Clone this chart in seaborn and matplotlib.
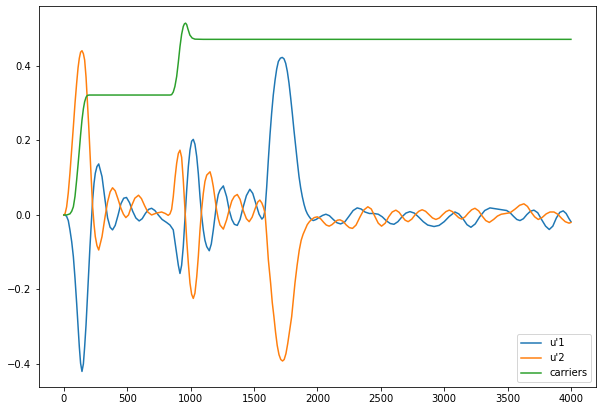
import matplotlib
matplotlib.use("Agg")
import matplotlib.pyplot as plt
import seaborn as sns
import pandas as pd

# ---- u'1 (blue) ----
u1_x = [0, 10, 22, 35, 48, 62, 75, 88, 101, 112, 122, 132, 143, 154, 164, 175, 185, 196, 206, 217,
        227, 238, 248, 261, 275, 301, 325, 345, 365, 384, 405, 428, 450, 472, 494, 518, 543, 568,
        594, 618, 643, 668, 692, 718, 745, 775, 810, 837, 863, 890, 903, 916, 929, 942, 955, 969,
        982, 995, 1008, 1021, 1034, 1048, 1061, 1074, 1087, 1100, 1113, 1127, 1147, 1163, 1179,
        1192, 1205, 1218, 1232, 1258, 1284, 1305, 1325, 1345, 1368, 1390, 1415, 1440, 1467, 1490,
        1515, 1540, 1562, 1575, 1587, 1600, 1613, 1626, 1639, 1652, 1666, 1679, 1692, 1708, 1723,
        1737, 1750, 1763, 1776, 1789, 1802, 1815, 1829, 1842, 1855, 1868, 1881, 1895, 1908, 1921,
        1934, 1947, 1967, 1990, 2017, 2042, 2067, 2095, 2125, 2155, 2183, 2215, 2248, 2282, 2314,
        2345, 2375, 2410, 2445, 2480, 2512, 2545, 2575, 2604, 2635, 2667, 2698, 2730, 2765, 2800,
        2835, 2870, 2920, 2960, 3000, 3040, 3085, 3115, 3148, 3180, 3211, 3245, 3280, 3320, 3361,
        3420, 3493, 3520, 3548, 3573, 3598, 3625, 3652, 3680, 3708, 3738, 3768, 3800, 3829, 3857,
        3885, 3912, 3939, 3962, 3985, 4000]
u1_y = [0.000, 0.000, -0.004, -0.015, -0.040, -0.072, -0.112, -0.170, -0.237, -0.300, -0.354,
        -0.398, -0.420, -0.400, -0.354, -0.295, -0.228, -0.155, -0.085, -0.020,
        0.040, 0.085, 0.112, 0.130, 0.137, 0.103, 0.040, -0.008, -0.033, -0.040, -0.028, 0.000,
        0.030, 0.045, 0.047, 0.033, 0.010, -0.008,
        -0.016, -0.010, 0.004, 0.015, 0.018, 0.012, 0.000, -0.012, -0.020, -0.027, -0.040, -0.103,
        -0.135, -0.157, -0.135, -0.085, -0.010, 0.067,
        0.130, 0.174, 0.198, 0.203, 0.190, 0.157, 0.110, 0.049, -0.002, -0.040, -0.068, -0.085,
        -0.096, -0.078, -0.040,
        -0.005, 0.031, 0.055, 0.067, 0.078, 0.049, 0.012, -0.012, -0.025, -0.028, -0.012, 0.022,
        0.052, 0.069, 0.058,
        0.030, 0.002, -0.011, -0.006, 0.013, 0.075, 0.148, 0.215, 0.273, 0.322, 0.362, 0.392,
        0.412, 0.421, 0.423,
        0.419, 0.407, 0.385, 0.354, 0.315, 0.273, 0.228, 0.183, 0.142, 0.103, 0.073, 0.049, 0.028,
        0.013, 0.003,
        -0.004, -0.010, -0.015, -0.012, -0.006, -0.001, 0.002, -0.002, -0.012, -0.021, -0.024,
        -0.019, -0.004, 0.012, 0.019,
        0.016, 0.008, 0.004, 0.004, 0.002, -0.005, -0.016, -0.023, -0.025, -0.018, -0.005, 0.005,
        0.009, 0.005, -0.006,
        -0.018, -0.027, -0.031, -0.028, -0.018, -0.004, 0.008, 0.003, -0.010, -0.026, -0.033,
        -0.024, -0.005, 0.012, 0.019,
        0.016, 0.012, 0.006, -0.004, -0.012, -0.015, -0.010, 0.001, 0.010, 0.013, 0.006, -0.012,
        -0.030, -0.039, -0.030,
        -0.008, 0.007, 0.011, 0.004, -0.010, -0.018]

# ---- u'2 (orange) ----
u2_x = [0, 10, 22, 35, 48, 62, 75, 88, 101, 112, 122, 132, 143, 154, 164, 175, 185, 196, 206, 217,
        227, 238, 248, 261, 275, 301, 325, 345, 365, 384, 405, 428, 450, 470, 489, 510, 535, 560,
        589, 612, 637, 662, 692, 730, 771, 800, 823, 837, 850, 863, 877, 890, 903, 916, 929, 942,
        955, 969, 982, 995, 1008, 1021, 1034, 1048, 1061, 1074, 1087, 1100, 1113, 1127, 1153,
        1166, 1179, 1192, 1205, 1218, 1232, 1258, 1284, 1305, 1325, 1345, 1368, 1390, 1415, 1440,
        1462, 1485, 1510, 1530, 1546, 1562, 1575, 1587, 1600, 1613, 1631, 1644, 1657, 1670, 1683,
        1697, 1711, 1725, 1738, 1752, 1766, 1780, 1797, 1810, 1823, 1840, 1857, 1872, 1887, 1902,
        1920, 1937, 1955, 1975, 1999, 2025, 2050, 2070, 2093, 2115, 2138, 2158, 2178, 2202, 2228,
        2252, 2277, 2305, 2335, 2365, 2398, 2425, 2452, 2480, 2506, 2535, 2562, 2590, 2619, 2645,
        2668, 2692, 2716, 2745, 2772, 2800, 2826, 2853, 2880, 2908, 2935, 2962, 2988, 3014, 3040,
        3065, 3090, 3114, 3138, 3165, 3190, 3217, 3243, 3272, 3300, 3328, 3356, 3390, 3420, 3450,
        3487, 3520, 3560, 3595, 3629, 3657, 3685, 3714, 3742, 3772, 3805, 3835, 3866, 3896, 3926,
        3955, 3985, 4000]
u2_y = [0.000, 0.004, 0.022, 0.060, 0.112, 0.175, 0.237, 0.300, 0.354, 0.395, 0.421, 0.437,
        0.441, 0.433, 0.416, 0.370, 0.309, 0.240, 0.166, 0.090,
        0.022, -0.025, -0.058, -0.082, -0.094, -0.058, -0.005, 0.035, 0.062, 0.073, 0.065, 0.042,
        0.018, 0.002, -0.007, 0.000, 0.025, 0.045,
        0.053, 0.044, 0.025, 0.008, 0.000, 0.005, 0.008, 0.004, -0.001, 0.003, 0.015, 0.049,
        0.100, 0.139, 0.165, 0.174, 0.155, 0.094,
        0.015, -0.067, -0.130, -0.183, -0.213, -0.224, -0.210, -0.166, -0.110, -0.040, 0.015,
        0.058, 0.090, 0.107, 0.116,
        0.100, 0.076, 0.045, 0.013, -0.010, -0.027, -0.038, -0.013, 0.015, 0.038, 0.050, 0.055,
        0.042, 0.012, -0.010,
        -0.018, -0.006, 0.018, 0.035, 0.040, 0.032, 0.020, 0.005, -0.055, -0.120, -0.183, -0.235,
        -0.273, -0.315, -0.350,
        -0.375, -0.388, -0.392, -0.388, -0.372, -0.345, -0.312, -0.273, -0.228, -0.183, -0.135,
        -0.094, -0.068, -0.052, -0.040,
        -0.026, -0.018, -0.012, -0.007, -0.005, -0.010, -0.020, -0.027, -0.030, -0.026, -0.019,
        -0.014, -0.013, -0.017, -0.027,
        -0.034, -0.036, -0.027, -0.006, 0.013, 0.022, 0.016, -0.003, -0.022, -0.030, -0.022,
        -0.005, 0.008, 0.013, 0.007,
        -0.004, -0.014, -0.018, -0.011, 0.001, 0.010, 0.014, 0.010, 0.001, -0.008, -0.012, -0.008,
        0.001, 0.009, 0.013,
        0.009, 0.001, -0.007, -0.011, -0.005, 0.005, 0.014, 0.018, 0.011, -0.003, -0.015, -0.020,
        -0.012, -0.003, 0.002,
        0.004, 0.006, 0.016, 0.026, 0.030, 0.023, 0.008, -0.005, -0.012, -0.007, 0.003, 0.008,
        0.008, 0.002, -0.009,
        -0.018, -0.022, -0.020]

# ---- carriers (green) ----
car_x = [0, 22, 48, 62, 75, 88, 101, 112, 122, 132, 143, 154, 164, 175, 185, 200, 837, 850, 863,
         876, 890, 903, 916, 929, 942, 951, 960, 969, 978, 994, 1012, 1034, 1100, 4000]
car_y = [0.000, 0.000, 0.003, 0.010, 0.022, 0.050, 0.094, 0.135, 0.174, 0.215, 0.255, 0.285,
         0.304, 0.316, 0.321, 0.322, 0.322, 0.323, 0.330, 0.345, 0.372, 0.410, 0.452, 0.485,
         0.506, 0.513, 0.515, 0.511, 0.500, 0.483, 0.475, 0.472, 0.4715, 0.4715]

labels = ["u'1", "u'2", "carriers"]

fig = plt.figure(figsize=(603 / 72, 411 / 72), dpi=72)
ax = fig.add_axes([38.5 / 603, 1 - 387.3 / 411, (596.3 - 38.5) / 603, (387.3 - 6) / 411])

series = [(u1_x, u1_y), (u2_x, u2_y), (car_x, car_y)]
colors = ["#1f77b4", "#ff7f0e", "#2ca02c"]
for (xs, ys), lab, col in zip(series, labels, colors):
    df = pd.DataFrame({"x": xs, "y": ys})
    sns.lineplot(data=df, x="x", y="y", ax=ax, color=col, label=lab,
                 estimator=None, sort=False, linewidth=1.5)

ax.set_xlim(-200, 4200)
ax.set_ylim(-0.4626, 0.561)
ax.set_xlabel("")
ax.set_ylabel("")
ax.set_yticks([-0.4, -0.2, 0.0, 0.2, 0.4])
ax.set_xticks([0, 500, 1000, 1500, 2000, 2500, 3000, 3500, 4000])
ax.legend(loc="lower right")

fig.savefig("out.png", dpi=72)
